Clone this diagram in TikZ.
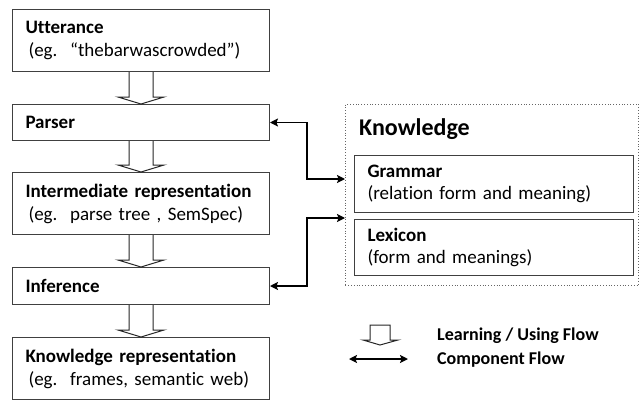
\documentclass[tikz,border=0pt]{standalone}
\usepackage{fontspec}
\setmainfont{Carlito}[Ligatures={NoCommon}]
\usetikzlibrary{calc,arrows.meta}
\tikzset{
  stage/.style={draw=black!75, line width=1pt, anchor=north west, minimum width=257pt,
    text width=231pt, inner xsep=13pt, align=left, font=\fontsize{19}{23}\selectfont},
  flow/.style={draw=black!85, line width=1pt, fill=white, line join=miter},
  comp/.style={<->, line width=1.4pt},
}
% open block arrow between two stages
\newcommand{\flowarrow}[2]{%
  \draw[flow] ($(#1.south)+(-12,0)$) -- ($(#2.north)+(-12,-7)$) -- ++(-11,0) -- (#2.north)
    -- ++(23,-7) -- ++(-11,0) -- ($(#1.south)+(12,0)$);}
\begin{document}
\begin{tikzpicture}[>={Stealth[length=8pt,width=8pt,inset=1.5pt]}, x=1pt, y=-1pt]
    \useasboundingbox (0,0) rectangle (640,399);
    \node[stage, minimum height=62pt] (utter) at (12,9) {\textbf{Utterance}\\\hspace{3pt}(eg.\ \ “thebarwascrowded”)};
    \node[stage, minimum height=36pt] (parser) at (12,104) {\textbf{Parser}};
    \node[stage, minimum height=62pt] (inter) at (12,172) {\textbf{Intermediate representation}\\\hspace{3pt}(eg.\ \ parse tree , SemSpec)};
    \node[stage, minimum height=37pt] (infer) at (12,267) {\textbf{Inference}};
    \node[stage, minimum height=62pt] (krep) at (12,337) {\textbf{Knowledge representation}\\\hspace{3pt}(eg.\ \ frames, semantic web)};

    \flowarrow{utter}{parser}
    \flowarrow{parser}{inter}
    \flowarrow{inter}{infer}
    \flowarrow{infer}{krep}

    % knowledge store
    \node[draw=black!60, dotted, line width=0.8pt, anchor=north west, minimum width=293pt, minimum height=181pt] (know) at (345,104) {};
    \node[anchor=base west, font=\bfseries\fontsize{24}{28}\selectfont, inner sep=0pt] (ktitle) at (359,135) {Knowledge};
    \node[stage, minimum width=279pt, text width=253pt, minimum height=57pt] (gram) at (354,155) {\textbf{Grammar}\\[-1pt](relation form and meaning)};
    \node[stage, minimum width=279pt, text width=253pt, minimum height=56pt] (lex) at (354,219) {\textbf{Lexicon}\\[-1pt](form and meanings)};

    \coordinate (mid) at (307,0);
    \coordinate (k1) at (345,179);
    \coordinate (k2) at (345,218);
    \draw[comp] (parser.east) -| (mid |- k1) -- (k1);
    \draw[comp] (infer.east) -| (mid |- k2) -- (k2);

    % legend
    \draw[flow] (370,325) -- (370,340) -- (363,340) -- (380,345) -- (398,340) -- (390,340) -- (390,325) -- cycle;
    \coordinate (la) at (349,359);
    \coordinate (lb) at (408,359);
    \draw[comp] (la) -- (lb);
    \node[anchor=base west, font=\bfseries\fontsize{18}{22}\selectfont, inner sep=0pt] (lflow) at (437,340) {Learning / Using Flow};
    \node[anchor=base west, font=\bfseries\fontsize{18}{22}\selectfont, inner sep=0pt] (lcomp) at (437,364) {Component Flow};
\end{tikzpicture}
\end{document}
